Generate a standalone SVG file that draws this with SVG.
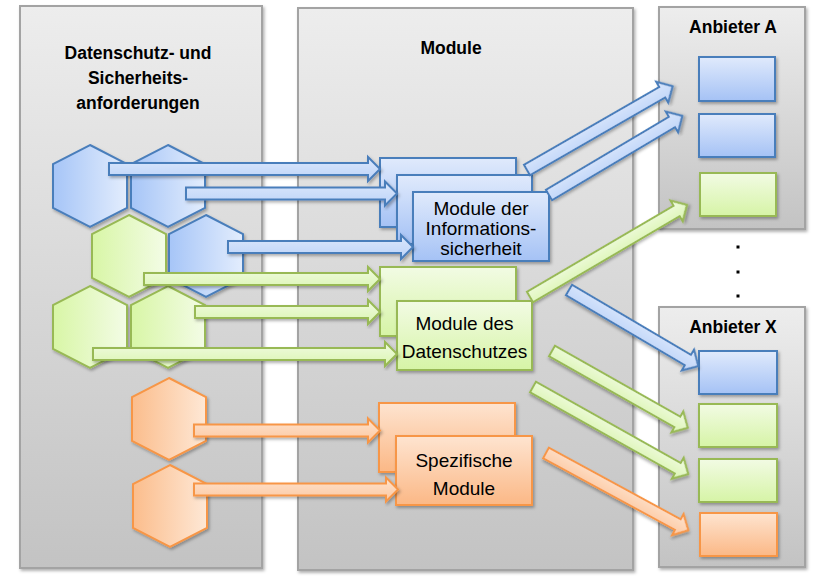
<svg xmlns="http://www.w3.org/2000/svg" width="813" height="581" viewBox="0 0 813 581">
<defs>
<linearGradient id="gPanel" x1="0" y1="0" x2="0" y2="1"><stop offset="0" stop-color="#ededed"/><stop offset="1" stop-color="#c3c3c3"/></linearGradient>
<linearGradient id="hB" x1="0" y1="0" x2="1" y2="0"><stop offset="0" stop-color="#a6c5f7"/><stop offset="1" stop-color="#e3edfd"/></linearGradient>
<linearGradient id="hG" x1="0" y1="0" x2="1" y2="0"><stop offset="0" stop-color="#d8f6a6"/><stop offset="1" stop-color="#f3fce6"/></linearGradient>
<linearGradient id="hO" x1="0" y1="0" x2="1" y2="0"><stop offset="0" stop-color="#fbbd8c"/><stop offset="1" stop-color="#fee8d6"/></linearGradient>
<linearGradient id="bB" x1="0" y1="0" x2="0" y2="1"><stop offset="0" stop-color="#e0eafc"/><stop offset="1" stop-color="#a5c2f5"/></linearGradient>
<linearGradient id="bG" x1="0" y1="0" x2="0" y2="1"><stop offset="0" stop-color="#f2fbe4"/><stop offset="1" stop-color="#d6f4a6"/></linearGradient>
<linearGradient id="bO" x1="0" y1="0" x2="0" y2="1"><stop offset="0" stop-color="#fee4d0"/><stop offset="1" stop-color="#fbb886"/></linearGradient>
<linearGradient id="aB" x1="0" y1="0" x2="0" y2="1"><stop offset="0" stop-color="#dce8fc"/><stop offset="1" stop-color="#bcd3f8"/></linearGradient>
<linearGradient id="aG" x1="0" y1="0" x2="0" y2="1"><stop offset="0" stop-color="#f1fbe2"/><stop offset="1" stop-color="#daf5b0"/></linearGradient>
<linearGradient id="aO" x1="0" y1="0" x2="0" y2="1"><stop offset="0" stop-color="#fee3ce"/><stop offset="1" stop-color="#fcc7a0"/></linearGradient>
<filter id="sh" x="-10%" y="-10%" width="130%" height="130%"><feDropShadow dx="1.5" dy="2" stdDeviation="1.5" flood-color="#000" flood-opacity="0.3"/></filter>
<path id="hex" d="M0,-41 L37,-22 L37,22 L0,41 L-37,22 L-37,-22 Z"/>
</defs>
<style>
.panel{fill:url(#gPanel);stroke:#a3a3a3;stroke-width:2;filter:url(#sh)}
.hb{fill:url(#hB);stroke:#4a7ebb;stroke-width:2}
.hg{fill:url(#hG);stroke:#98b954;stroke-width:2}
.ho{fill:url(#hO);stroke:#f79646;stroke-width:2}
.bb{fill:url(#bB);stroke:#4a7ebb;stroke-width:2}
.bg{fill:url(#bG);stroke:#98b954;stroke-width:2}
.bo{fill:url(#bO);stroke:#f79646;stroke-width:2}
.ab{fill:url(#aB);stroke:#4a7ebb;stroke-width:2}
.ag{fill:url(#aG);stroke:#98b954;stroke-width:2}
.ao{fill:url(#aO);stroke:#f79646;stroke-width:2}
.s{filter:url(#sh)}
.title{font-family:"Liberation Sans",Arial,sans-serif;font-weight:bold;font-size:17.5px;fill:#000;text-anchor:middle}
.lbl{font-family:"Liberation Sans",Arial,sans-serif;font-size:19px;fill:#000;text-anchor:middle}
</style>
<rect width="813" height="581" fill="#ffffff"/>

<g id="panel-anforderungen">
<rect class="panel" x="20" y="6" width="242" height="562"/>
<text class="title" x="138" y="59">Datenschutz- und</text>
<text class="title" x="138" y="84">Sicherheits-</text>
<text class="title" x="138" y="109">anforderungen</text>
</g>
<g id="panel-module">
<rect class="panel" x="298" y="8" width="335" height="562"/>
<text class="title" x="451" y="54">Module</text>
</g>
<g id="panel-anbieter-a">
<rect class="panel" x="659" y="7" width="146" height="222"/>
<text class="title" x="733" y="33">Anbieter A</text>
</g>
<g id="panel-anbieter-x">
<rect class="panel" x="659" y="307" width="146" height="260"/>
<text class="title" x="733" y="333">Anbieter X</text>
</g>
<g id="dots" fill="#000">
<rect x="736.5" y="245.5" width="3" height="3"/>
<rect x="736.5" y="270.5" width="3" height="3"/>
<rect x="736.5" y="294.5" width="3" height="3"/>
</g>

<g id="hexagons">
<g id="hex-b1" class="s"><use href="#hex" class="hb" transform="translate(90,186)"/></g>
<g id="hex-b2" class="s"><use href="#hex" class="hb" transform="translate(168,186)"/></g>
<g id="hex-g3" class="s"><use href="#hex" class="hg" transform="translate(129,256)"/></g>
<g id="hex-b4" class="s"><use href="#hex" class="hb" transform="translate(206,256)"/></g>
<g id="hex-g5" class="s"><use href="#hex" class="hg" transform="translate(90,327)"/></g>
<g id="hex-g6" class="s"><use href="#hex" class="hg" transform="translate(168,327)"/></g>
<g id="hex-o7" class="s"><use href="#hex" class="ho" transform="translate(169,419)"/></g>
<g id="hex-o8" class="s"><use href="#hex" class="ho" transform="translate(170,506)"/></g>
</g>

<g id="mod-info">
<rect class="bb s" x="380" y="158" width="136" height="69"/>
<rect class="bb s" x="397" y="175" width="135" height="69"/>
<rect class="bb s" x="413" y="192" width="136" height="69"/>
<text class="lbl" x="481" y="215">Module der</text>
<text class="lbl" x="481" y="235">Informations-</text>
<text class="lbl" x="481" y="255">sicherheit</text>
</g>
<g id="mod-datenschutz">
<rect class="bg s" x="380" y="267" width="136" height="69"/>
<rect class="bg s" x="397" y="301" width="135" height="69"/>
<text class="lbl" x="464.5" y="330">Module des</text>
<text class="lbl" x="464.5" y="358">Datenschutzes</text>
</g>
<g id="mod-spezifisch">
<rect class="bo s" x="379" y="403" width="136" height="69"/>
<rect class="bo s" x="396" y="436" width="136" height="69"/>
<text class="lbl" x="464" y="467">Spezifische</text>
<text class="lbl" x="464" y="495">Module</text>
</g>

<g id="anbieter-a-boxes">
<rect id="a-b1" class="bb s" x="699" y="57" width="76" height="44"/>
<rect id="a-b2" class="bb s" x="699" y="114" width="76" height="43"/>
<rect id="a-g1" class="bg s" x="700" y="173" width="76" height="43"/>
</g>
<g id="anbieter-x-boxes">
<rect id="x-b1" class="bb s" x="699" y="351" width="78" height="43"/>
<rect id="x-g1" class="bg s" x="699" y="404" width="78" height="43"/>
<rect id="x-g2" class="bg s" x="699" y="459" width="78" height="43"/>
<rect id="x-o1" class="bo s" x="700" y="513" width="77" height="43"/>
</g>

<g id="connectors">
<path class="ab s" transform="translate(109,169)" d="M0,-6 H259 V-12 L271,0 L259,12 V6 H0 Z"/>
<path class="ab s" transform="translate(186,193.5)" d="M0,-6 H199 V-12 L211,0 L199,12 V6 H0 Z"/>
<path class="ab s" transform="translate(228,247)" d="M0,-6 H173 V-12 L185,0 L173,12 V6 H0 Z"/>
<path class="ag s" transform="translate(144,279)" d="M0,-6 H224 V-12 L236,0 L224,12 V6 H0 Z"/>
<path class="ag s" transform="translate(195,312)" d="M0,-6 H173 V-12 L185,0 L173,12 V6 H0 Z"/>
<path class="ag s" transform="translate(93,354)" d="M0,-6 H292 V-12 L304,0 L292,12 V6 H0 Z"/>
<path class="ao s" transform="translate(194,430.5)" d="M0,-6 H174 V-12 L186,0 L174,12 V6 H0 Z"/>
<path class="ao s" transform="translate(194,489.5)" d="M0,-6 H192 V-12 L204,0 L192,12 V6 H0 Z"/>
<path class="ab s" transform="translate(527,170) rotate(-29.9)" d="M0,-6 H156 V-12 L168,0 L156,12 V6 H0 Z"/>
<path class="ab s" transform="translate(549,195) rotate(-30.7)" d="M0,-6 H143 V-12 L155,0 L143,12 V6 H0 Z"/>
<path class="ag s" transform="translate(530,297) rotate(-30.4)" d="M0,-6 H170 V-12 L182,0 L170,12 V6 H0 Z"/>
<path class="ab s" transform="translate(569,290) rotate(30.5)" d="M0,-6 H138 V-12 L150,0 L138,12 V6 H0 Z"/>
<path class="ag s" transform="translate(552,351) rotate(29.5)" d="M0,-6 H144 V-12 L156,0 L144,12 V6 H0 Z"/>
<path class="ag s" transform="translate(533,387) rotate(29.3)" d="M0,-6 H166 V-12 L178,0 L166,12 V6 H0 Z"/>
<path class="ao s" transform="translate(546,453) rotate(28.5)" d="M0,-6 H150 V-12 L162,0 L150,12 V6 H0 Z"/>
</g>
</svg>
